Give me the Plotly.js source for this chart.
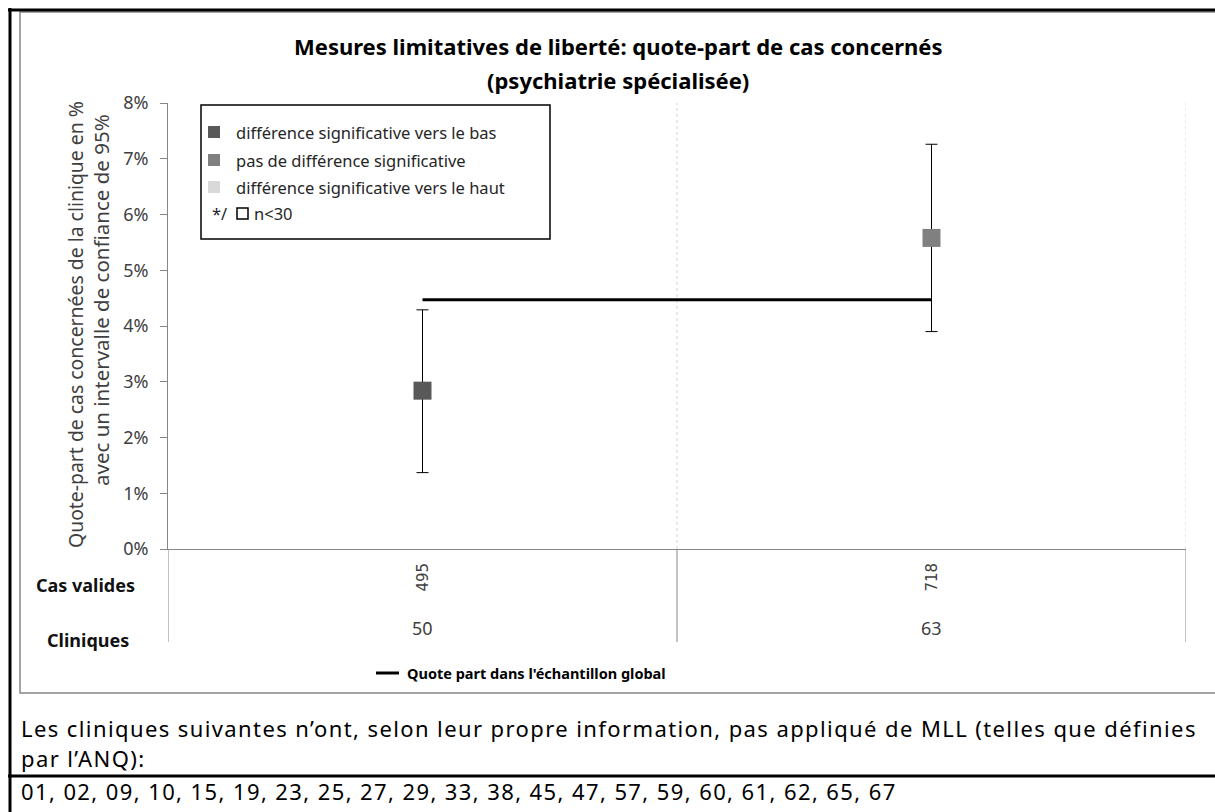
<!DOCTYPE html>
<html><head><meta charset="utf-8">
<script src="https://cdn.plot.ly/plotly-3.0.1.min.js"></script>
<style>
html,body{margin:0;padding:0;background:#fff;overflow:hidden}
#wrap{position:relative;width:1215px;height:812px}
#chart{position:absolute;left:0;top:0;width:1215px;height:812px}
.foot{position:absolute;left:21px;font-family:"Noto Sans","Open Sans",sans-serif;font-size:22px;letter-spacing:1.4px;line-height:30px;color:#000;white-space:nowrap}
</style>
</head><body><div id="wrap"><div id="chart"></div>
<div class="foot" id="f1" style="top:713px"></div>
<div class="foot" id="f3" style="top:777px;line-height:28px"></div>
</div>
<script>
// ---- data ----
const clinics = ["50", "63"];
const casValides = [495, 718];
const share = [2.84, 5.58];
const ciLow = [1.37, 3.90];
const ciHigh = [4.29, 7.26];
const globalShare = 4.47;
const significance = ["bas", "none"];
const yTicks = [0, 1, 2, 3, 4, 5, 6, 7, 8];
const yTickText = yTicks.map(v => v + "%");
const legendLabels = ["différence significative vers le bas", "pas de différence significative", "différence significative vers le haut"];
const titleLines = ["Mesures limitatives de liberté: quote-part de cas concernés", "(psychiatrie spécialisée)"];
const yTitleLines = ["Quote-part de cas concernées de la clinique en %", "avec un intervalle de confiance de 95%"];
const rowLabels = ["Cas valides", "Cliniques"];
const globalLabel = "Quote part dans l'échantillon global";
const footerLines = ["Les cliniques suivantes n’ont, selon leur propre information, pas appliqué de MLL (telles que définies", "par l’ANQ):"];
const noMllClinics = ["01","02","09","10","15","19","23","25","27","29","33","38","45","47","57","59","60","61","62","65","67"];

const f1 = document.getElementById("f1");
f1.appendChild(document.createTextNode(footerLines[0]));
f1.appendChild(document.createElement("br"));
f1.appendChild(document.createTextNode(footerLines[1]));
document.getElementById("f3").textContent = noMllClinics.join(", ");

// ---- geometry helpers (pixel -> paper) ----
const L = 168, R = 1186, T = 103, B = 549;
const px = X => (X - L) / (R - L);
const py = Y => (B - Y) / (B - T);
const colorFor = { bas: "#595959", none: "#808080", haut: "#d9d9d9" };
const FONT = "Noto Sans, Open Sans, sans-serif";

const traces = [
  {
    x: clinics, y: clinics.map(() => globalShare), type: "scatter", mode: "lines",
    line: { color: "#000", width: 3 }, hoverinfo: "skip", showlegend: false
  },
  {
    x: clinics, y: share, type: "scatter", mode: "markers",
    marker: { symbol: "square", size: 18, color: significance.map(s => colorFor[s]), line: { width: 0 } },
    error_y: {
      type: "data", symmetric: false,
      array: ciHigh.map((h, i) => h - share[i]),
      arrayminus: ciLow.map((l, i) => share[i] - l),
      color: "#000", thickness: 1, width: 6
    },
    showlegend: false
  }
];

const shapes = [];
const annotations = [];
// category boundary gridlines (dotted)
[0.5, 1.5].forEach(xv => shapes.push({ type: "line", xref: "x", yref: "y", x0: xv, x1: xv, y0: 0, y1: 8, line: { color: "#d4d4d4", width: 1, dash: "dot" }, layer: "below" }));
// table vertical lines
[-0.5, 0.5, 1.5].forEach(xv => shapes.push({ type: "line", xref: "x", yref: "paper", x0: xv, x1: xv, y0: py(549), y1: py(642), line: { color: "#868686", width: 1 } }));

// table texts
clinics.forEach((c, i) => {
  annotations.push({ xref: "x", yref: "paper", x: i, y: py(577), text: String(casValides[i]), textangle: -90, showarrow: false, font: { family: "DejaVu Sans, sans-serif", size: 15, color: "#404040" }, xanchor: "center", yanchor: "middle" });
  annotations.push({ xref: "x", yref: "paper", x: i, y: py(628), text: c, showarrow: false, font: { family: FONT, size: 18, color: "#404040" }, xanchor: "center", yanchor: "middle" });
});
annotations.push({ xref: "paper", yref: "paper", x: px(85), y: py(585), text: "<b>" + rowLabels[0] + "</b>", showarrow: false, font: { family: FONT, size: 18, color: "#111" }, xanchor: "center", yanchor: "middle" });
annotations.push({ xref: "paper", yref: "paper", x: px(88), y: py(640), text: "<b>" + rowLabels[1] + "</b>", showarrow: false, font: { family: FONT, size: 18, color: "#111" }, xanchor: "center", yanchor: "middle" });

// title
annotations.push({ xref: "paper", yref: "paper", x: px(618), y: py(46), text: "<b>" + titleLines[0] + "</b>", showarrow: false, font: { family: FONT, size: 22, color: "#000" }, xanchor: "center", yanchor: "middle" });
annotations.push({ xref: "paper", yref: "paper", x: px(618), y: py(80), text: "<b>" + titleLines[1] + "</b>", showarrow: false, font: { family: FONT, size: 22, color: "#000" }, xanchor: "center", yanchor: "middle" });

// y title
annotations.push({ xref: "paper", yref: "paper", x: px(75), y: py(325), text: yTitleLines[0], textangle: -90, showarrow: false, font: { family: FONT, size: 19.4, color: "#404040" }, xanchor: "center", yanchor: "middle" });
annotations.push({ xref: "paper", yref: "paper", x: px(101), y: py(300), text: yTitleLines[1], textangle: -90, showarrow: false, font: { family: FONT, size: 20.5, color: "#404040" }, xanchor: "center", yanchor: "middle" });

// legend box
shapes.push({ type: "rect", xref: "paper", yref: "paper", x0: px(201), x1: px(550), y0: py(105), y1: py(239), line: { color: "#000", width: 1.5 }, fillcolor: "rgba(0,0,0,0)" });
const rowsY = [132, 160, 187];
legendLabels.forEach((lab, i) => {
  const key = ["bas", "none", "haut"][i];
  shapes.push({ type: "rect", xref: "paper", yref: "paper", x0: px(208), x1: px(220), y0: py(rowsY[i] - 6), y1: py(rowsY[i] + 6), line: { width: 0 }, fillcolor: colorFor[key] });
  annotations.push({ xref: "paper", yref: "paper", x: px(234), y: py(rowsY[i]), text: lab, showarrow: false, font: { family: FONT, size: 16.5, color: "#262626" }, xanchor: "left", yanchor: "middle" });
});
annotations.push({ xref: "paper", yref: "paper", x: px(210), y: py(213), text: "*/", showarrow: false, font: { family: FONT, size: 16.5, color: "#262626" }, xanchor: "left", yanchor: "middle" });
shapes.push({ type: "rect", xref: "paper", yref: "paper", x0: px(237), x1: px(248), y0: py(219), y1: py(208), line: { color: "#000", width: 1.5 }, fillcolor: "rgba(0,0,0,0)" });
annotations.push({ xref: "paper", yref: "paper", x: px(252), y: py(213), text: "n<30", showarrow: false, font: { family: FONT, size: 16.5, color: "#262626" }, xanchor: "left", yanchor: "middle" });

// bottom legend for global line
shapes.push({ type: "line", xref: "paper", yref: "paper", x0: px(376), x1: px(399), y0: py(673), y1: py(673), line: { color: "#000", width: 3 } });
annotations.push({ xref: "paper", yref: "paper", x: px(405), y: py(673), text: "<b>" + globalLabel + "</b>", showarrow: false, font: { family: FONT, size: 14.5, color: "#000" }, xanchor: "left", yanchor: "middle" });

// frames
shapes.push({ type: "rect", xref: "paper", yref: "paper", x0: px(20), x1: px(1218), y0: py(12), y1: py(693), line: { color: "#868686", width: 1.5 }, fillcolor: "rgba(0,0,0,0)" });
shapes.push({ type: "line", xref: "paper", yref: "paper", x0: px(8), x1: px(1220), y0: py(10), y1: py(10), line: { color: "#000", width: 3 } });
shapes.push({ type: "line", xref: "paper", yref: "paper", x0: px(10), x1: px(10), y0: py(8), y1: py(820), line: { color: "#000", width: 3 } });
shapes.push({ type: "line", xref: "paper", yref: "paper", x0: px(8), x1: px(1220), y0: py(776), y1: py(776), line: { color: "#000", width: 3 } });

const layout = {
  width: 1215, height: 812,
  margin: { l: L, r: 1215 - R, t: T, b: 812 - B, pad: 0 },
  paper_bgcolor: "rgba(0,0,0,0)", plot_bgcolor: "#fff",
  showlegend: false,
  xaxis: { type: "category", categoryarray: clinics, range: [-0.5, 1.5], showticklabels: false, ticks: "", showgrid: false, zeroline: false, showline: true, linecolor: "#868686", linewidth: 1, fixedrange: true },
  yaxis: { range: [0, 8], tickvals: yTicks, ticktext: yTickText, ticks: "outside", ticklen: 7, tickcolor: "#868686", showgrid: false, zeroline: false, showline: true, linecolor: "#868686", linewidth: 1, ticklabelstandoff: 8, tickfont: { family: FONT, size: 18, color: "#404040" }, fixedrange: true },
  shapes: shapes, annotations: annotations
};
Plotly.newPlot("chart", traces, layout, { staticPlot: true, displayModeBar: false });
</script></body></html>
